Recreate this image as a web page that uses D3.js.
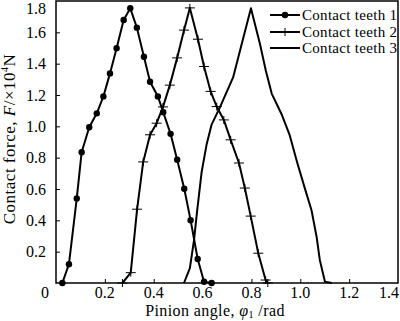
<!DOCTYPE html>
<html lang="en">
<head>
<meta charset="UTF-8">
<title>Contact force</title>
<script src="https://d3js.org/d3.v7.min.js"></script>
<style>
  body { margin: 0; background: #fff; }
  svg text { font-family: "Liberation Serif", "Times New Roman", serif; fill: #000; }
  .curve { fill: none; stroke: #000; stroke-width: 2px; stroke-linejoin: round; }
</style>
</head>
<body>
<div id="chart"></div>
<script>
// data (angle in rad, force in 10^4 N)
const teeth1X = [0.026, 0.053, 0.085, 0.105, 0.136, 0.167, 0.194, 0.221, 0.248, 0.277, 0.304,
                 0.331, 0.360, 0.385, 0.417, 0.439, 0.469, 0.496, 0.525, 0.551, 0.580, 0.606, 0.637];
const teeth1Y = [0.0, 0.12, 0.54, 0.835, 0.994, 1.083, 1.191, 1.338, 1.499, 1.679, 1.754,
                 1.630, 1.444, 1.285, 1.191, 1.090, 0.952, 0.787, 0.602, 0.401, 0.153, 0.008, 0.0];

const teeth2X = [0.272, 0.306, 0.332, 0.357, 0.385, 0.412, 0.438, 0.466, 0.496, 0.524, 0.548,
                 0.581, 0.606, 0.633, 0.658, 0.687, 0.715, 0.749, 0.773, 0.797, 0.828, 0.858, 0.867];
const teeth2Y = [0.0, 0.066, 0.471, 0.773, 0.946, 1.020, 1.124, 1.263, 1.437, 1.614, 1.756,
                 1.556, 1.382, 1.223, 1.126, 1.041, 0.914, 0.766, 0.606, 0.427, 0.190, 0.019, 0.0];

const teeth3X = [0.524, 0.548, 0.565, 0.578, 0.596, 0.617, 0.637, 0.671, 0.725, 0.760, 0.798,
                 0.835, 0.859, 0.883, 0.923, 0.957, 0.985, 1.015, 1.046, 1.067, 1.080, 1.101, 1.129];
const teeth3Y = [0.0, 0.095, 0.274, 0.464, 0.706, 0.888, 1.011, 1.121, 1.312, 1.524, 1.754,
                 1.525, 1.355, 1.209, 1.079, 0.942, 0.782, 0.623, 0.464, 0.293, 0.146, 0.008, 0.0];

const seriesNames = ["Contact teeth 1", "Contact teeth 2", "Contact teeth 3"];
const xTicks = [0, 0.2, 0.4, 0.6, 0.8, 1.0, 1.2, 1.4];
const yTicks = [0.2, 0.4, 0.6, 0.8, 1.0, 1.2, 1.4, 1.6, 1.8];

const width = 400, height = 321;
const plotLeft = 56, plotRight = 398, plotTop = 1, plotBottom = 283;

const svg = d3.select("#chart").append("svg")
  .attr("width", width).attr("height", height);

const x = d3.scaleLinear().domain([0, 1.4]).range([plotLeft, plotRight]);
const y = d3.scaleLinear().domain([0, 1.8]).range([plotBottom, plotTop]);

// axes with inward ticks
const xAxis = d3.axisTop(x).tickValues(xTicks.slice(1, -1)).tickSize(4).tickFormat("");
const yAxis = d3.axisRight(y).tickValues(yTicks.slice(0, -1)).tickSize(4).tickFormat("");

svg.append("g").attr("transform", "translate(0," + plotBottom + ")").call(xAxis)
  .call(g => g.select(".domain").remove());
svg.append("g").attr("transform", "translate(" + plotLeft + ",0)").call(yAxis)
  .call(g => g.select(".domain").remove());
svg.selectAll(".tick line").attr("stroke", "#000").attr("stroke-width", 1);

// frame
svg.append("rect")
  .attr("x", plotLeft).attr("y", plotTop)
  .attr("width", plotRight - plotLeft).attr("height", plotBottom - plotTop)
  .attr("fill", "none").attr("stroke", "#000").attr("stroke-width", 1.5);

// tick labels
svg.append("g").selectAll("text").data(xTicks).join("text")
  .attr("x", d => d === 0 ? 45 : (d === 1.4 ? 389 : x(d)))
  .attr("y", 298)
  .attr("text-anchor", "middle")
  .attr("font-size", 16)
  .text(d => d === 0 ? "0" : d.toFixed(1));

svg.append("g").selectAll("text").data(yTicks).join("text")
  .attr("x", 46)
  .attr("y", d => Math.max(y(d) + 5.6, 14))
  .attr("text-anchor", "end")
  .attr("font-size", 16)
  .text(d => d.toFixed(1));

// axis titles
const xt = svg.append("text")
  .attr("x", 215).attr("y", 316)
  .attr("text-anchor", "middle")
  .attr("font-size", 16)
  .attr("letter-spacing", 0.4);
xt.append("tspan").text("Pinion angle, ");
xt.append("tspan").attr("font-style", "italic").text("φ");
xt.append("tspan").attr("font-size", 10).attr("dy", 2).text("1");
xt.append("tspan").attr("dy", -2).text(" /rad");

const yt = svg.append("text")
  .attr("transform", "translate(15,139) rotate(-90)")
  .attr("text-anchor", "middle")
  .attr("font-size", 17)
  .attr("letter-spacing", 0.5);
yt.append("tspan").text("Contact force, ");
yt.append("tspan").attr("font-style", "italic").text("F");
yt.append("tspan").text("/×10");
yt.append("tspan").attr("font-size", 10).attr("dy", -7).text("4");
yt.append("tspan").attr("dy", 7).text("N");

// lines
const series = [
  { name: seriesNames[0], xs: teeth1X, ys: teeth1Y, marker: "dot" },
  { name: seriesNames[1], xs: teeth2X, ys: teeth2Y, marker: "plus" },
  { name: seriesNames[2], xs: teeth3X, ys: teeth3Y, marker: "none" }
];

const line = d3.line().x(d => x(d[0])).y(d => y(d[1]));

function drawMarker(g, type, px, py) {
  if (type === "dot") {
    g.append("circle").attr("cx", px).attr("cy", py).attr("r", 3.2).attr("fill", "#000");
  } else if (type === "plus") {
    g.append("line").attr("x1", px - 5).attr("x2", px + 5).attr("y1", py).attr("y2", py)
      .attr("stroke", "#000").attr("stroke-width", 1);
    g.append("line").attr("x1", px).attr("x2", px).attr("y1", py - 4).attr("y2", py + 4)
      .attr("stroke", "#000").attr("stroke-width", 1);
  }
}

series.forEach(s => {
  const pts = s.xs.map((v, i) => [v, s.ys[i]]);
  const g = svg.append("g");
  g.append("path").attr("class", "curve").attr("d", line(pts));
  pts.forEach(p => drawMarker(g, s.marker, x(p[0]), y(p[1])));
});

// legend
const legendY = [15, 32, 48];
series.forEach((s, i) => {
  const g = svg.append("g");
  g.append("line").attr("x1", 270).attr("x2", 300)
    .attr("y1", legendY[i]).attr("y2", legendY[i])
    .attr("stroke", "#000").attr("stroke-width", 2);
  drawMarker(g, s.marker, 285, legendY[i]);
  g.append("text").attr("x", 302).attr("y", legendY[i]).attr("dy", "0.35em")
    .attr("font-size", 15).attr("letter-spacing", 0.3).text(s.name);
});
</script>
</body>
</html>
